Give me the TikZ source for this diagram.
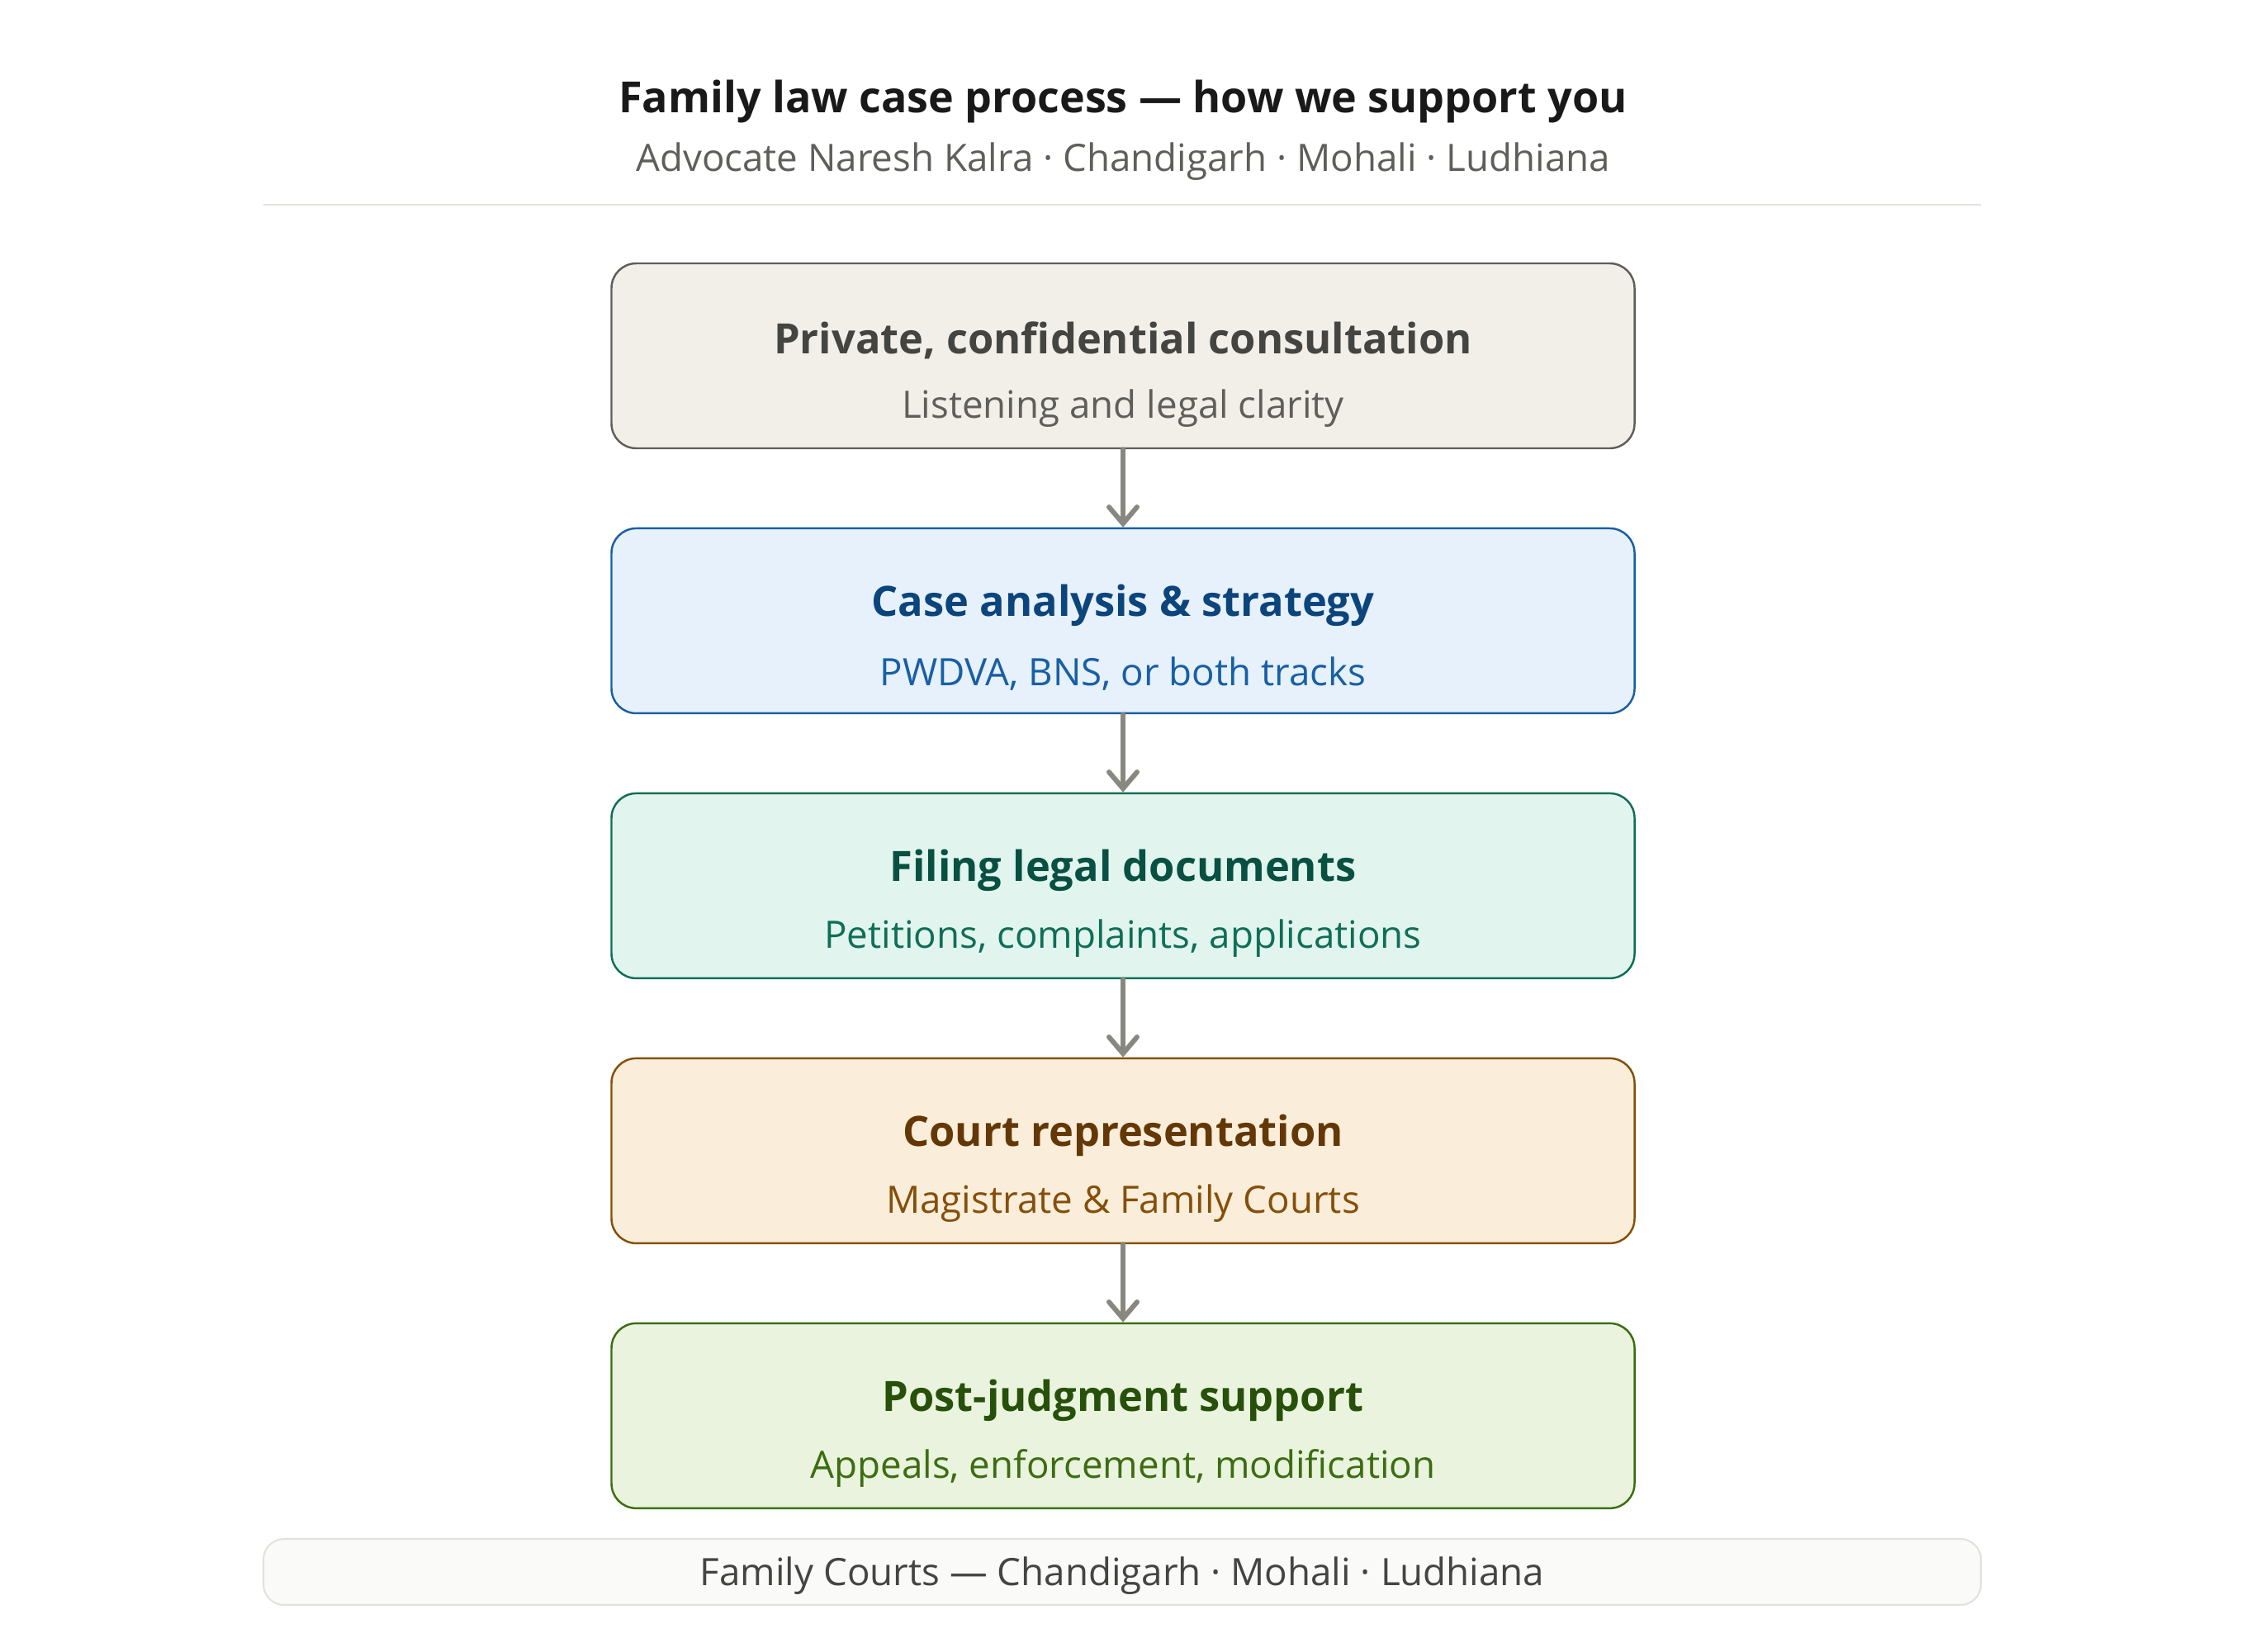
\documentclass[tikz,border=0pt]{standalone}
\usepackage{fontspec}
\setmainfont{Open Sans}
\usepackage{tikz}
\usetikzlibrary{positioning, arrows.meta}
\definecolor{inkgray}{HTML}{444441}
\definecolor{midgray}{HTML}{5F5E5A}
\definecolor{arrowgray}{HTML}{888780}
\definecolor{rulegray}{HTML}{E3E2DE}
\definecolor{greyfill}{HTML}{F1EFE8}
\definecolor{bluefill}{HTML}{E6F1FB}
\definecolor{bluedraw}{HTML}{185FA5}
\definecolor{bluetext}{HTML}{0C447C}
\definecolor{tealfill}{HTML}{E1F5EE}
\definecolor{tealdraw}{HTML}{0F6E56}
\definecolor{tealtext}{HTML}{085041}
\definecolor{amberfill}{HTML}{FAEEDA}
\definecolor{amberdraw}{HTML}{854F0B}
\definecolor{ambertext}{HTML}{633806}
\definecolor{greenfill}{HTML}{EAF3DE}
\definecolor{greendraw}{HTML}{3B6D11}
\definecolor{greentext}{HTML}{27500A}
\definecolor{footfill}{HTML}{FAFAF8}

\begin{document}
\begin{tikzpicture}[
    node distance=0.945cm,
    stepbox/.style={rectangle, rounded corners=0.3cm, line width=0.7pt, minimum width=12.39cm, minimum height=2.24cm},
    steptitle/.style={font=\fontsize{14.4}{18}\selectfont\bfseries, inner sep=0pt},
    stepsub/.style={font=\fontsize{13}{16}\selectfont, inner sep=0pt},
    flow/.style={-{Straight Barb[length=2mm, width=3.4mm, line cap=round]}, line width=1.7pt, draw=arrowgray, line cap=round}
]
    \useasboundingbox (0,0) rectangle (27.2,-20);

    % heading
    \node[font=\fontsize{14.8}{18}\selectfont\bfseries, text=black!90] (title) at (13.6,-1.23) {Family law case process — how we support you};
    \node[font=\fontsize{13}{16}\selectfont, text=midgray] (subtitle) at (13.6,-1.96) {Advocate Naresh Kalra · Chandigarh · Mohali · Ludhiana};
    \coordinate (ruleL) at (3.19,-2.48);
    \coordinate (ruleR) at (23.99,-2.48);
    \draw[rulegray, line width=0.6pt] (ruleL) -- (ruleR);

    % steps
    \node[stepbox, draw=midgray, fill=greyfill] (consult) at (13.6,-4.31) {};
    \node[stepbox, draw=bluedraw, fill=bluefill, below=of consult] (analysis) {};
    \node[stepbox, draw=tealdraw, fill=tealfill, below=of analysis] (filing) {};
    \node[stepbox, draw=amberdraw, fill=amberfill, below=of filing] (court) {};
    \node[stepbox, draw=greendraw, fill=greenfill, below=of court] (post) {};

    \node[steptitle, text=inkgray] (consult-t) at ([yshift=0.19cm]consult.center) {Private, confidential consultation};
    \node[stepsub, text=midgray] (consult-s) at ([yshift=-0.64cm]consult.center) {Listening and legal clarity};
    \node[steptitle, text=bluetext] (analysis-t) at ([yshift=0.19cm]analysis.center) {Case analysis \& strategy};
    \node[stepsub, text=bluedraw] (analysis-s) at ([yshift=-0.64cm]analysis.center) {PWDVA, BNS, or both tracks};
    \node[steptitle, text=tealtext] (filing-t) at ([yshift=0.19cm]filing.center) {Filing legal documents};
    \node[stepsub, text=tealdraw] (filing-s) at ([yshift=-0.64cm]filing.center) {Petitions, complaints, applications};
    \node[steptitle, text=ambertext] (court-t) at ([yshift=0.19cm]court.center) {Court representation};
    \node[stepsub, text=amberdraw] (court-s) at ([yshift=-0.64cm]court.center) {Magistrate \& Family Courts};
    \node[steptitle, text=greentext] (post-t) at ([yshift=0.19cm]post.center) {Post-judgment support};
    \node[stepsub, text=greendraw] (post-s) at ([yshift=-0.64cm]post.center) {Appeals, enforcement, modification};

    \draw[flow] (consult) -- (analysis);
    \draw[flow] (analysis) -- (filing);
    \draw[flow] (filing) -- (court);
    \draw[flow] (court) -- (post);

    % footer
    \node[rectangle, rounded corners=0.25cm, draw=rulegray, fill=footfill, line width=0.6pt, minimum width=20.8cm, minimum height=0.8cm, text depth=0.3pt, font=\fontsize{13}{16}\selectfont, text=inkgray] (footer) at (13.59,-19.04) {Family Courts — Chandigarh · Mohali · Ludhiana};
\end{tikzpicture}
\end{document}
